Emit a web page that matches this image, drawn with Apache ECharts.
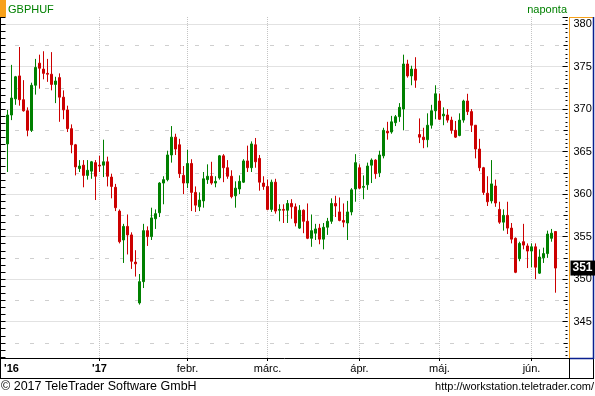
<!DOCTYPE html>
<html><head><meta charset="utf-8">
<script src="https://cdn.jsdelivr.net/npm/echarts@6/dist/echarts.min.js"></script>
<style>html,body{margin:0;padding:0;background:#fff}#c{width:595px;height:396px}</style>
</head><body><div id="c"></div>
<script>
// ---- data ----
const firstCategory = '2016-11-29';   // one empty slot before the first candle
const trailingSlots = 3;               // empty slots after the last candle
const opens = [365.9,369.3,371.2,373.9,371.1,369.8,367.5,372.8,375.4,374.7,374.2,374.1,372.9,373.7,371.4,369.9,367.7,365.8,363.0,363.4,
362.2,362.7,363.7,363.4,363.4,363.8,362.0,360.8,358.0,354.6,356.2,355.2,352.0,347.2,349.7,355.7,355.0,357.1,357.8,361.3,
361.7,364.6,366.7,365.8,362.2,361.3,363.6,360.2,358.5,359.2,361.7,362.1,361.3,361.9,364.5,363.1,362.1,359.8,360.6,361.4,
363.9,363.1,365.8,364.2,361.3,360.9,358.2,361.4,358.1,358.2,358.1,358.9,358.5,356.0,358.1,356.8,354.8,355.4,356.0,354.7,
356.1,356.8,358.9,357.9,356.9,356.6,357.9,360.6,363.1,360.8,361.1,363.4,364.0,362.5,364.5,367.4,367.3,368.4,369.1,370.0,
375.3,373.9,374.7,367.0,366.7,366.4,368.1,369.8,370.95,369.2,369.3,368.7,367.5,366.9,368.7,370.95,369.7,368.1,365.3,363.1,
360.1,359.2,360.95,358.2,356.7,357.5,356.0,354.8,352.4,354.4,353.9,353.3,353.8,350.7,352.5,353.0,354.8,355.6];
const closes = [369.3,371.3,373.8,371.1,369.8,367.5,372.8,374.9,374.8,374.2,374.1,372.9,373.3,371.4,369.9,367.7,365.8,363.2,363.3,362.2,
362.8,363.8,362.1,363.3,363.8,362.1,360.9,358.4,354.4,356.2,355.2,352.1,351.8,349.7,355.7,355.0,357.2,357.7,361.3,361.7,
364.6,366.7,365.3,362.4,361.3,363.6,360.2,358.7,359.3,361.8,362.1,361.3,361.5,364.5,363.1,362.1,359.7,360.7,361.5,363.9,
363.1,365.9,363.8,361.4,360.9,358.2,361.4,358.0,358.2,358.1,358.9,358.5,356.6,358.1,356.8,354.8,355.7,355.9,354.7,356.1,
356.8,358.9,358.6,356.9,356.7,357.9,360.5,363.7,360.7,360.9,363.3,364.0,362.4,364.6,367.5,367.2,368.5,369.1,370.2,375.3,
373.9,374.7,373.4,366.7,366.4,368.1,369.8,371.8,368.8,369.4,368.7,367.5,366.7,368.7,370.95,369.7,368.1,365.3,363.1,360.2,
359.1,361.2,358.95,356.7,357.5,356.0,354.7,350.8,354.2,354.0,353.3,353.8,351.4,352.6,353.0,355.3,355.4,351.3];
const lows = [362.6,368.7,370.5,370.4,369.7,366.8,367.3,371.7,372.4,373.5,373.2,372.2,370.7,368.5,368.8,367.3,364.8,362.2,362.6,360.8,
361.7,361.8,359.3,362.6,362.0,360.9,359.5,358.0,354.2,351.9,352.9,351.2,350.3,347.0,348.95,353.9,354.6,355.9,357.3,358.8,
361.5,363.7,364.6,361.9,360.0,360.7,358.0,357.9,358.0,358.4,361.2,361.1,360.8,361.7,361.4,361.8,359.5,358.4,360.0,361.3,
362.6,362.6,363.1,360.4,360.5,358.1,357.9,357.7,356.8,356.6,356.6,357.1,356.2,355.9,355.4,354.7,353.8,354.6,354.1,353.5,
355.2,356.5,357.3,356.8,356.1,354.6,357.5,359.1,360.6,359.4,360.5,361.3,361.8,362.0,364.2,366.4,367.1,368.0,368.5,367.5,
373.7,372.8,372.5,366.0,365.4,365.5,367.7,368.8,368.7,368.1,368.4,367.1,366.6,366.8,368.4,369.3,367.3,364.2,362.7,359.9,
358.6,358.9,358.5,356.5,355.7,355.3,354.2,350.7,352.1,353.5,351.3,351.4,350.0,350.6,351.9,352.5,354.4,348.4];
const highs = [369.9,375.2,373.9,377.3,373.4,370.2,373.1,375.9,376.4,376.8,375.9,376.7,373.8,374.2,372.2,370.4,368.2,365.9,364.0,364.0,
364.0,363.9,364.0,364.5,366.4,364.4,362.4,361.2,358.2,356.5,357.6,355.5,353.4,350.6,356.5,356.2,358.4,358.2,361.4,362.1,
365.1,368.0,367.1,366.5,363.3,365.2,364.1,360.9,360.2,362.6,363.5,363.8,362.1,364.6,364.7,364.0,362.8,361.5,362.2,364.1,
365.7,366.2,366.6,364.6,362.1,361.7,361.7,361.8,358.8,358.8,359.3,359.4,358.9,358.7,358.2,358.9,357.6,356.5,356.5,356.6,
357.2,359.5,359.8,359.6,358.9,359.2,360.7,364.7,363.5,362.2,363.7,364.2,364.1,365.1,367.8,368.5,369.2,369.3,370.7,376.4,
375.8,375.1,376.1,368.9,367.8,369.5,370.5,372.8,371.8,370.2,370.0,369.1,368.6,369.5,371.1,371.8,370.0,368.1,366.5,363.2,
362.1,364.0,361.7,359.1,358.2,359.1,356.6,354.9,354.4,356.5,354.2,354.2,354.2,353.5,353.7,355.7,355.9,355.6];
const labelDates = ['2016-12-01','2017-01-02','2017-02-01','2017-03-01','2017-04-03','2017-05-01','2017-06-01'];
const labelTexts = ["'16","'17",'febr.','márc.','ápr.','máj.','jún.'];
const gridDates = labelDates.slice(1);
const yMin = 340.72, yMax = 380.83;
const symbolName = 'GBPHUF', periodName = 'naponta';
const footLeft = '\u00a9 2017 TeleTrader Software GmbH', footRight = 'http://workstation.teletrader.com/';

// ---- build ----
function weekdays(start, n) {
  const out = []; const d = new Date(start + 'T00:00:00Z');
  while (out.length < n) { const w = d.getUTCDay(); if (w !== 0 && w !== 6) out.push(d.toISOString().slice(0, 10)); d.setUTCDate(d.getUTCDate() + 1); }
  return out;
}
const dates = weekdays(firstCategory, opens.length + 1 + trailingSlots);
const candles = dates.map((d, i) => {
  const k = i - 1;
  return (k >= 0 && k < opens.length) ? [opens[k], closes[k], lows[k], highs[k]] : ['-', '-', '-', '-'];
});
const FONT = 'Liberation Sans';
const GREEN = '#008000', RED = '#cc0000', ORANGE = '#f7a11a', BLUE = '#0a1f8f';
const dotted = { color: '#c4c4c4', width: 1, type: [1, 1] };

const chart = echarts.init(document.getElementById('c'), null, { renderer: 'canvas' });
chart.setOption({
  animation: false,
  backgroundColor: '#fff',
  textStyle: { fontFamily: FONT },
  grid: { left: 3.5, top: 17, width: 564, height: 341, containLabel: false },
  xAxis: {
    type: 'category', data: dates, boundaryGap: false,
    axisLine: { show: false },
    axisTick: { show: true, length: 3, interval: (i, v) => gridDates.includes(v), lineStyle: { color: '#000' } },
    axisLabel: { interval: (i, v) => labelDates.includes(v),
      formatter: v => { const t = labelTexts[labelDates.indexOf(v)] || ''; return t.charAt(0) === "'" ? '{y|' + t + '}' : t; },
      rich: { y: { fontWeight: 'bold', fontSize: 11, fontFamily: FONT, color: '#000' } },
      color: '#000', fontSize: 11, fontFamily: FONT, margin: 5 },
    splitLine: { show: true, interval: (i, v) => gridDates.includes(v), lineStyle: dotted }
  },
  yAxis: [
    { type: 'value', position: 'right', min: yMin, max: yMax, minInterval: 5, maxInterval: 5, splitNumber: 8, scale: true,
      axisLine: { show: false },
      axisTick: { show: true, inside: true, length: 5, lineStyle: { color: '#000' } },
      axisLabel: { formatter: v => (Math.abs(v % 5) < 1e-6 ? String(v) : ''), color: '#000', fontSize: 11, fontFamily: FONT, margin: 6 },
      splitLine: { show: true, showMinLine: false, showMaxLine: false, lineStyle: dotted } },
    { type: 'value', position: 'right', min: yMin - 2.5, max: yMax - 2.5, minInterval: 5, maxInterval: 5, splitNumber: 8, scale: true,
      axisLine: { show: false }, axisTick: { show: true, inside: true, length: 4, lineStyle: { color: '#000' } }, axisLabel: { show: false },
      splitLine: { show: true, showMinLine: false, showMaxLine: false, lineStyle: { color: '#cfcfcf', width: 1, type: [4, 11], dashOffset: 3.5 } } },
    { type: 'value', position: 'right', min: yMin, max: yMax, minInterval: 0.5, maxInterval: 0.5, splitNumber: 80, scale: true,
      axisLine: { show: false }, axisTick: { show: true, inside: true, length: 2, lineStyle: { color: '#000' } }, axisLabel: { show: false },
      splitLine: { show: false } },
    { type: 'value', position: 'left', min: yMin, max: yMax, minInterval: 5 / 6, maxInterval: 5 / 6, splitNumber: 48, scale: true,
      axisLine: { show: false }, axisTick: { show: true, inside: true, length: 5, lineStyle: { color: '#000' } }, axisLabel: { show: false },
      splitLine: { show: false }, offset: 3 }
  ],
  series: [{
    type: 'candlestick', data: candles, yAxisIndex: 0, barWidth: 3, clip: false,
    itemStyle: { color: GREEN, color0: RED, borderColor: GREEN, borderColor0: RED, borderWidth: 1 },
    markLine: {
      silent: true, symbol: 'none', animation: false,
      lineStyle: { color: 'transparent', width: 0, type: 'solid' },
      label: { show: true, position: 'end', distance: 3, formatter: p => String(Math.round(p.value)), color: '#fff', backgroundColor: '#000',
        fontSize: 12, fontWeight: 'bold', fontFamily: FONT, padding: [2, 3, 1, 2] },
      data: [{ yAxis: closes[closes.length - 1] }]
    }
  }],
  graphic: [
    { type: 'rect', shape: { x: 0, y: 0, width: 6, height: 17 }, style: { fill: ORANGE }, silent: true },
    { type: 'text', left: 8, top: 4, style: { text: symbolName, fill: GREEN, font: '11px ' + FONT } },
    { type: 'text', right: 28, top: 4, style: { text: periodName, fill: GREEN, font: '11px ' + FONT } },
    { type: 'line', shape: { x1: 0.5, y1: 17, x2: 0.5, y2: 378 }, style: { stroke: '#000', lineWidth: 1 } },
    { type: 'line', shape: { x1: 0, y1: 358.5, x2: 569, y2: 358.5 }, style: { stroke: '#000', lineWidth: 1 } },
    { type: 'line', shape: { x1: 0, y1: 378.5, x2: 594, y2: 378.5 }, style: { stroke: '#000', lineWidth: 1 } },
    { type: 'line', shape: { x1: 569.5, y1: 358, x2: 569.5, y2: 378 }, style: { stroke: '#000', lineWidth: 1 } },
    { type: 'line', shape: { x1: 593.5, y1: 358, x2: 593.5, y2: 378 }, style: { stroke: '#000', lineWidth: 1 } },
    { type: 'line', shape: { x1: 569.5, y1: 17, x2: 569.5, y2: 358 }, style: { stroke: ORANGE, lineWidth: 1 } },
    { type: 'line', shape: { x1: 569, y1: 17.5, x2: 593, y2: 17.5 }, style: { stroke: ORANGE, lineWidth: 1 } },
    { type: 'line', shape: { x1: 593.5, y1: 17, x2: 593.5, y2: 359 }, style: { stroke: BLUE, lineWidth: 1.5 } },
    { type: 'line', shape: { x1: 570, y1: 358.5, x2: 594, y2: 358.5 }, style: { stroke: BLUE, lineWidth: 1.5 } },
    { type: 'text', left: 1, top: 380, style: { text: footLeft, fill: '#000', font: '12.5px ' + FONT } },
    { type: 'text', right: 1, top: 381, style: { text: footRight, fill: '#000', font: '11px ' + FONT } }
  ]
});
</script></body></html>
